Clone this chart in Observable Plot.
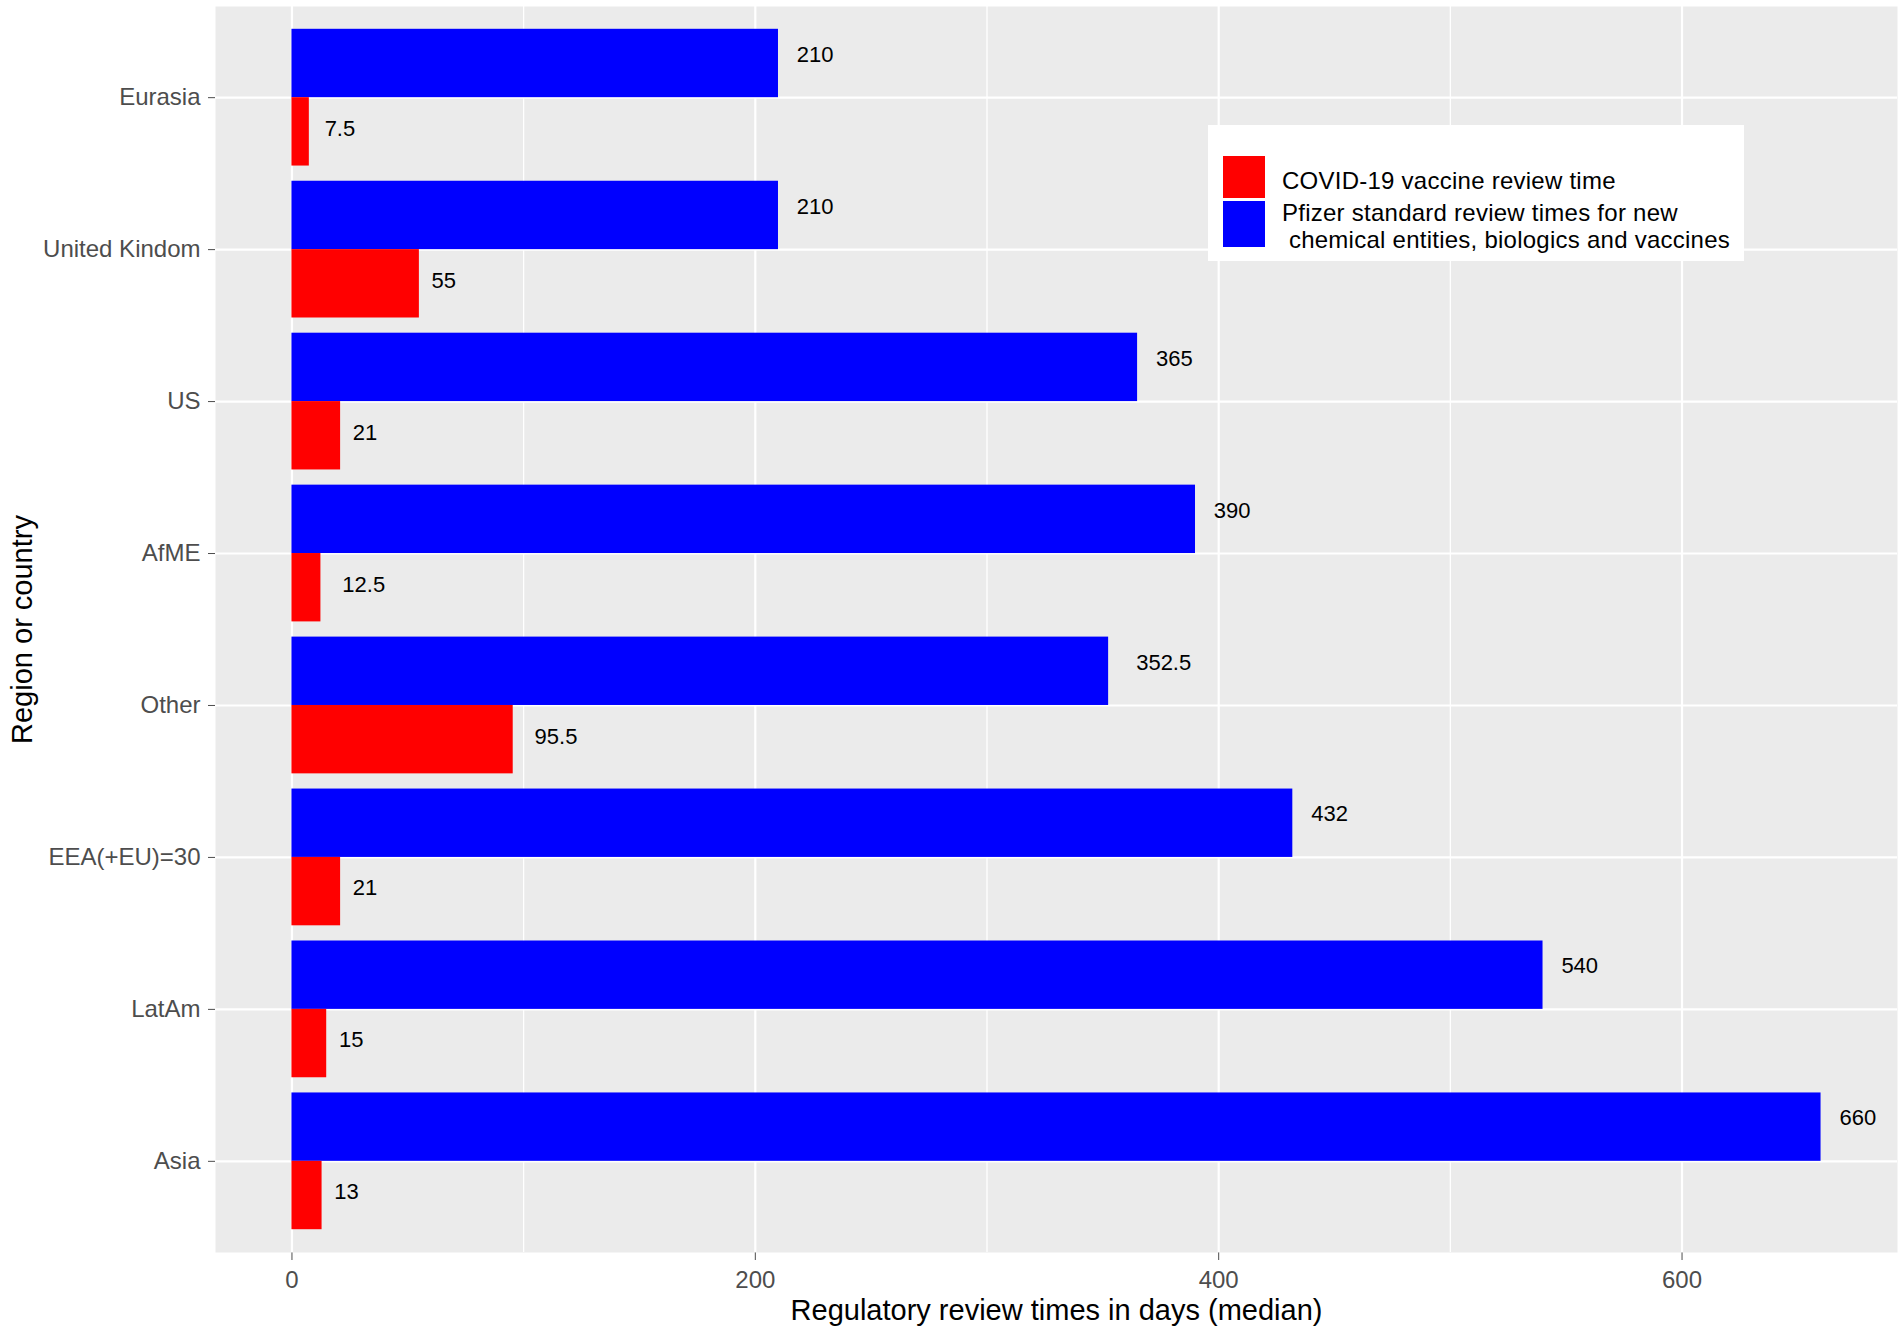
<!DOCTYPE html>
<html>
<head>
<meta charset="utf-8">
<script src="https://cdn.jsdelivr.net/npm/d3@7"></script>
<script src="https://cdn.jsdelivr.net/npm/@observablehq/plot@0.6"></script>
<style>
  html, body { margin: 0; padding: 0; background: #fff; }
  #wrap { position: relative; width: 1902px; height: 1334px; font-family: "Liberation Sans", Arial, sans-serif; }
  #legend { position: absolute; left: 1208px; top: 125px; width: 536px; height: 136px; background: #fff; }
  #legend .key { position: absolute; left: 15px; width: 42px; }
  #legend .lab { position: absolute; left: 74px; font-size: 24px; line-height: 24px; letter-spacing: 0.25px; color: #000; white-space: pre; }
</style>
</head>
<body>
<div id="wrap">
  <div id="chart"></div>
  <div id="legend"></div>
</div>
<script>
// ---- data ----
const regions = ["Eurasia", "United Kindom", "US", "AfME", "Other", "EEA(+EU)=30", "LatAm", "Asia"];
const covidDays = [7.5, 55, 21, 12.5, 95.5, 21, 15, 13];
const pfizerDays = [210, 210, 365, 390, 352.5, 432, 540, 660];
const xTicks = [0, 200, 400, 600];
const xMinorTicks = [100, 300, 500];
const seriesNames = ["COVID-19 vaccine review time", "Pfizer standard review times for new\n chemical entities, biologics and vaccines"];
const seriesColors = ["#FF0000", "#0000FF"];
const xTitle = "Regulatory review times in days (median)";
const yTitle = "Region or country";

// ---- tables ----
const covid = regions.map((r, i) => ({region: r, value: covidDays[i]}));
const pfizer = regions.map((r, i) => ({region: r, value: pfizerDays[i]}));

// ---- layout ----
const W = 1902, H = 1334;
const mL = 215, mR = 5, mT = 6, mB = 82;
const padOuter = 0.1;
const bw = (H - mT - mB) / (regions.length + 2 * padOuter);
const half = bw / 2, edge = bw * 0.05;

const chart = Plot.plot({
  width: W,
  height: H,
  marginLeft: mL,
  marginRight: mR,
  marginTop: mT,
  marginBottom: mB,
  style: {
    fontFamily: "'Liberation Sans', Arial, sans-serif",
    fontSize: "24px",
    color: "#4D4D4D",
    background: "white",
    overflow: "visible"
  },
  x: {domain: [-33, 693], ticks: xTicks, tickSize: 8, tickPadding: 10, label: null, tickFormat: d => String(d)},
  y: {type: "band", domain: regions, paddingInner: 0, paddingOuter: padOuter, round: false, tickSize: 7, tickPadding: 8, label: null},
  marks: [
    Plot.frame({fill: "#EBEBEB", stroke: "none"}),
    Plot.ruleX(xMinorTicks, {stroke: "white", strokeWidth: 1.3}),
    Plot.ruleX(xTicks, {stroke: "white", strokeWidth: 2.2}),
    Plot.ruleY(regions, {y: d => d, stroke: "white", strokeWidth: 2.2}),
    Plot.barX(pfizer, {x1: 0, x2: "value", y: "region", fill: seriesColors[1], insetTop: edge, insetBottom: half}),
    Plot.barX(covid, {x1: 0, x2: "value", y: "region", fill: seriesColors[0], insetTop: half, insetBottom: edge}),
    Plot.text(pfizer, {x: "value", y: "region", text: d => String(d.value), textAnchor: "start", dy: -43, fill: "#000", fontSize: 22}),
    Plot.text(covid, {x: "value", y: "region", text: d => String(d.value), textAnchor: "start", dy: 31, fill: "#000", fontSize: 22}),
    Plot.text([xTitle], {text: d => d, frameAnchor: "bottom", textAnchor: "middle", lineAnchor: "bottom", dy: 67, fill: "#000", fontSize: 29}),
    Plot.text([yTitle], {text: d => d, frameAnchor: "left", textAnchor: "middle", lineAnchor: "bottom", rotate: -90, dx: -(mL - 31), fill: "#000", fontSize: 29})
  ]
});
document.getElementById("chart").append(chart);

// ggplot-style hjust = -0.5: shift value labels right by half their width
chart.querySelectorAll("text").forEach(t => {
  if (t.closest('[aria-label*="axis"]')) return;
  if (/^[\d.]+$/.test(t.textContent.trim())) {
    t.setAttribute("dx", t.getComputedTextLength() / 2);
  }
});

// ---- legend ----
const legend = document.getElementById("legend");
const keyTops = [31, 76], keyHeights = [42, 46];
seriesColors.forEach((c, i) => {
  const k = document.createElement("div");
  k.className = "key";
  k.style.top = keyTops[i] + "px";
  k.style.height = keyHeights[i] + "px";
  k.style.background = c;
  legend.append(k);
});
const lines = [seriesNames[0], ...seriesNames[1].split("\n")];
const lineTops = [43.7, 76.4, 103];
lines.forEach((s, i) => {
  const l = document.createElement("div");
  l.className = "lab";
  l.style.top = lineTops[i] + "px";
  l.textContent = s;
  legend.append(l);
});
</script>
</body>
</html>
